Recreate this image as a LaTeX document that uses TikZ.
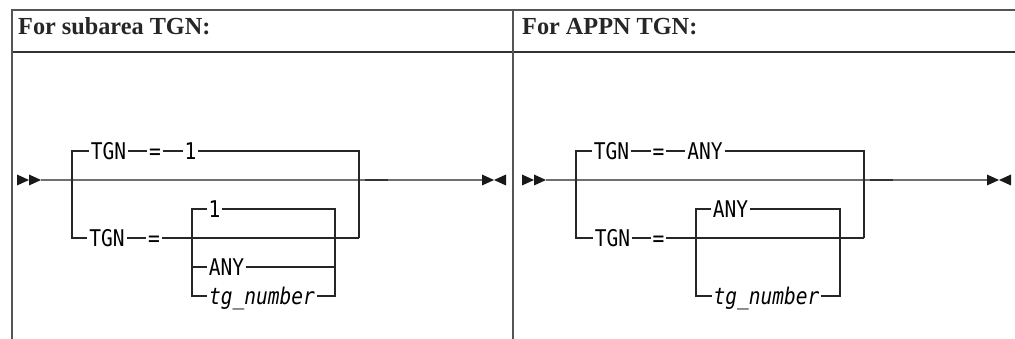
\documentclass[tikz,border=0pt]{standalone}
\usepackage{fontspec}
\usepackage{tikz}
\usetikzlibrary{positioning,calc}
\newfontfamily\synfont[FakeStretch=0.85]{DejaVu Sans Mono}
\newfontfamily\headfont[FakeStretch=0.99]{Liberation Serif}
\definecolor{maingray}{HTML}{707070}
\definecolor{rulegray}{HTML}{555555}

\begin{document}
\begin{tikzpicture}[x=1pt,y=-1pt,
  syn/.style={font=\synfont\fontsize{23}{26}\selectfont, inner sep=2pt, outer sep=0pt, text height=16.5pt, text depth=0pt},
  head/.style={font=\headfont\bfseries\fontsize{24.5}{28}\selectfont, inner sep=0pt, anchor=base west, text=black!85},
  mainline/.style={draw=maingray, line width=1.4pt},
  branch/.style={draw=black!85, line width=1.1pt},
  tablerule/.style={draw=rulegray, line width=1.5pt}]
\useasboundingbox (0,0) rectangle (1015,339);
\fill[white] (0,0) rectangle (1015,339);
% table
\draw[tablerule] (11,10) -- (1015,10);
\draw[tablerule,draw=black!80] (11,52) -- (1015,52);
\draw[tablerule] (12,10) -- (12,339);
\draw[tablerule] (513,10) -- (513,339);
\node[head] (headA) at (18,35) {For subarea TGN:};
\node[head] (headB) at (522,35) {For APPN TGN:};

% subarea TGN
\coordinate (sA) at (41,180);
\coordinate (eA) at (482,180);
\draw[mainline] (sA) -- (eA);
\draw[mainline,draw=black!80] (365,180) -- (388,180);
\fill[black!90] (17,174.5) -- (29,180) -- (17,185.5) -- cycle;
\fill[black!90] (29,174.5) -- (41,180) -- (29,185.5) -- cycle;
\fill[black!90] (482,174.5) -- (494,180) -- (482,185.5) -- cycle;
\fill[black!90] (506,174.5) -- (494,180) -- (506,185.5) -- cycle;
\node[syn] (tgnA) at (108.5,151) {TGN};
\node[syn] (eqA) at (155,151) {=};
\node[syn] (oneA) at (190.5,151) {1};
\node[syn] (tgnB) at (107,238) {TGN};
\node[syn] (eqB) at (154,238) {=};
\node[syn] (oneB) at (214.5,209) {1};
\node[syn] (anyA) at (226.5,267) {ANY};
\node[syn] (numA) at (262,296) {\itshape tg\_number};
\coordinate (cA1) at (72,151);
\coordinate (cA2) at (72,238);
\coordinate (cA3) at (359,151);
\coordinate (cA4) at (359,238);
\coordinate (iA1) at (192,209);
\coordinate (iA2) at (192,296);
\coordinate (iA3) at (335,209);
\coordinate (iA4) at (335,296);
\draw[branch] (tgnA.west) -- (cA1) -- (cA2) -- (tgnB.west);
\draw[branch] (tgnA) -- (eqA);
\draw[branch] (eqA) -- (oneA);
\draw[branch] (oneA.east) -- (cA3) -- (cA4);
\draw[branch] (tgnB) -- (eqB);
\draw[branch] (eqB.east) -- (cA4);
\draw[branch] (oneB.west) -- (iA1) -- (iA2) -- (numA.west);
\draw[branch] (oneB.east) -- (iA3) -- (iA4) -- (numA.east);
\draw[branch] (anyA.west) -- (anyA.west -| iA1);
\draw[branch] (anyA.east) -- (anyA.east -| iA3);

% APPN TGN
\coordinate (sB) at (546,180);
\coordinate (eB) at (987,180);
\draw[mainline] (sB) -- (eB);
\draw[mainline,draw=black!80] (870,180) -- (893,180);
\fill[black!90] (522,174.5) -- (534,180) -- (522,185.5) -- cycle;
\fill[black!90] (534,174.5) -- (546,180) -- (534,185.5) -- cycle;
\fill[black!90] (987,174.5) -- (999,180) -- (987,185.5) -- cycle;
\fill[black!90] (1011,174.5) -- (999,180) -- (1011,185.5) -- cycle;
\node[syn] (tgnC) at (611.5,151) {TGN};
\node[syn] (eqC) at (658.5,151) {=};
\node[syn] (anyC) at (705,151) {ANY};
\node[syn] (tgnD) at (612.5,238) {TGN};
\node[syn] (eqD) at (658.5,238) {=};
\node[syn] (anyD) at (730.5,209) {ANY};
\node[syn] (numB) at (766.5,296) {\itshape tg\_number};
\coordinate (cB1) at (576,151);
\coordinate (cB2) at (576,238);
\coordinate (cB3) at (864,151);
\coordinate (cB4) at (864,238);
\coordinate (iB1) at (696,209);
\coordinate (iB2) at (696,296);
\coordinate (iB3) at (840,209);
\coordinate (iB4) at (840,296);
\draw[branch] (tgnC.west) -- (cB1) -- (cB2) -- (tgnD.west);
\draw[branch] (tgnC) -- (eqC);
\draw[branch] (eqC) -- (anyC);
\draw[branch] (anyC.east) -- (cB3) -- (cB4);
\draw[branch] (tgnD) -- (eqD);
\draw[branch] (eqD.east) -- (cB4);
\draw[branch] (anyD.west) -- (iB1) -- (iB2) -- (numB.west);
\draw[branch] (anyD.east) -- (iB3) -- (iB4) -- (numB.east);
\end{tikzpicture}
\end{document}
